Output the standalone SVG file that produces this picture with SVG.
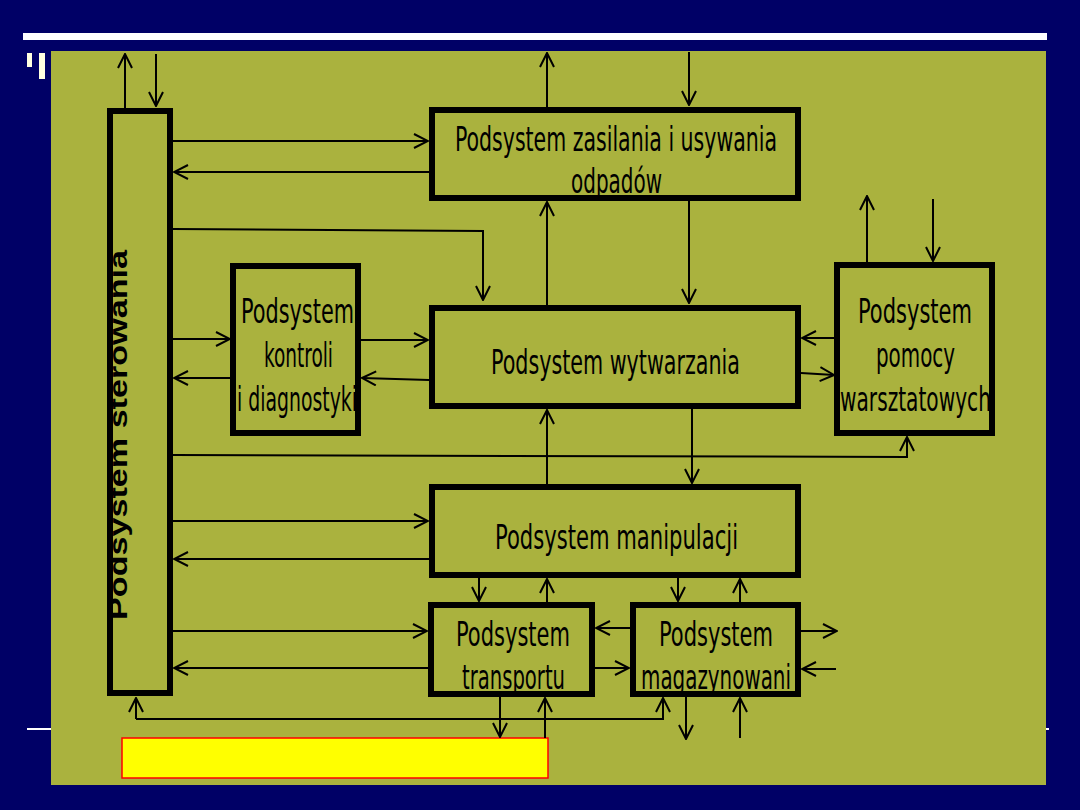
<svg xmlns="http://www.w3.org/2000/svg" width="1080" height="810" viewBox="0 0 1080 810">
<defs>
<marker id="ah" viewBox="0 0 16 16" refX="15" refY="8" markerWidth="16" markerHeight="16" markerUnits="userSpaceOnUse" orient="auto">
<path d="M1,1 L15,8 L1,15" fill="none" stroke="#000" stroke-width="2"/>
</marker>
<style>
.box{fill:none;stroke:#000;stroke-width:6}
.t{font-family:"DejaVu Sans Condensed","DejaVu Sans",sans-serif;font-size:33px;fill:#000}
.c path{fill:none;stroke:#000;stroke-width:2;marker-end:url(#ah)}
</style>
</defs>
<rect x="0" y="0" width="1080" height="810" fill="#000066"/>
<rect x="23" y="33" width="1024" height="7" fill="#ffffff"/>
<rect x="27" y="53" width="5" height="14" fill="#ffffe0"/>
<rect x="39" y="53" width="6" height="26" fill="#ffffe0"/>
<rect x="27" y="728" width="24" height="2" fill="#ffffff"/>
<rect x="1044" y="728" width="5" height="2" fill="#ffffff"/>
<rect x="51" y="51" width="995" height="734" fill="#aab23e"/>
<rect x="122" y="738" width="426" height="40" fill="#ffff00" stroke="#ff0000" stroke-width="1.5"/>

<g id="sterowania">
<rect class="box" x="110" y="111" width="60" height="582"/>
<text transform="translate(127,620) rotate(-90)" font-family="'Liberation Sans',Arial,sans-serif" font-weight="bold" font-size="26" textLength="370" lengthAdjust="spacingAndGlyphs">Podsystem sterowania</text>
</g>
<g id="zasilania">
<rect class="box" x="432" y="110" width="366" height="88"/>
<text class="t" x="455" y="151" textLength="322" lengthAdjust="spacingAndGlyphs">Podsystem zasilania  i usywania</text>
<text class="t" x="571" y="193" textLength="91" lengthAdjust="spacingAndGlyphs">odpadów</text>
</g>
<g id="kontroli">
<rect class="box" x="233" y="266" width="125" height="167"/>
<text class="t" x="241" y="323" textLength="113" lengthAdjust="spacingAndGlyphs">Podsystem</text>
<text class="t" x="264" y="367" textLength="69" lengthAdjust="spacingAndGlyphs">kontroli</text>
<text class="t" x="237" y="411" textLength="120" lengthAdjust="spacingAndGlyphs">i diagnostyki</text>
</g>
<g id="wytwarzania">
<rect class="box" x="432" y="308" width="366" height="98"/>
<text class="t" x="491" y="374" textLength="249" lengthAdjust="spacingAndGlyphs">Podsystem  wytwarzania</text>
</g>
<g id="pomocy">
<rect class="box" x="837" y="265" width="155" height="168"/>
<text class="t" x="858" y="323" textLength="114" lengthAdjust="spacingAndGlyphs">Podsystem</text>
<text class="t" x="876" y="367" textLength="79" lengthAdjust="spacingAndGlyphs">pomocy</text>
<text class="t" x="840" y="411" textLength="151" lengthAdjust="spacingAndGlyphs">warsztatowych</text>
</g>
<g id="manipulacji">
<rect class="box" x="432" y="487" width="366" height="88"/>
<text class="t" x="495" y="549" textLength="243" lengthAdjust="spacingAndGlyphs">Podsystem   manipulacji</text>
</g>
<g id="transportu">
<rect class="box" x="431" y="605" width="161" height="89"/>
<text class="t" x="456" y="646" textLength="114" lengthAdjust="spacingAndGlyphs">Podsystem</text>
<text class="t" x="462" y="689" textLength="103" lengthAdjust="spacingAndGlyphs">transportu</text>
</g>
<g id="magazynowania">
<rect class="box" x="633" y="605" width="165" height="89"/>
<text class="t" x="659" y="646" textLength="114" lengthAdjust="spacingAndGlyphs">Podsystem</text>
<text class="t" x="641" y="689" textLength="150" lengthAdjust="spacingAndGlyphs">magazynowani</text>
</g>

<g id="connectors" class="c">
<path d="M125,108 L125,54"/>
<path d="M156,54 L156,106"/>
<path d="M173,141 L428,141"/>
<path d="M429,172 L174,172"/>
<path d="M173,229 L483,231 L483,300"/>
<path d="M173,339 L230,339"/>
<path d="M230,378 L174,378"/>
<path d="M361,340 L428,340"/>
<path d="M429,380 L362,378"/>
<path d="M547,305 L547,202"/>
<path d="M689,201 L689,303"/>
<path d="M547,107 L547,53"/>
<path d="M689,52 L689,105"/>
<path d="M867,262 L867,196"/>
<path d="M933,199 L933,261"/>
<path d="M834,338 L802,338"/>
<path d="M801,373 L834,375"/>
<path d="M173,455 L907,457 L907,437"/>
<path d="M547,484 L547,410"/>
<path d="M692,409 L692,483"/>
<path d="M173,521 L428,521"/>
<path d="M429,559 L174,559"/>
<path d="M479,578 L479,601"/>
<path d="M547,602 L547,579"/>
<path d="M678,578 L678,601"/>
<path d="M740,602 L740,579"/>
<path d="M173,631 L427,631"/>
<path d="M428,668 L174,668"/>
<path d="M630,628 L596,628"/>
<path d="M595,668 L629,668"/>
<path d="M801,631 L837,631"/>
<path d="M836,669 L802,669"/>
<path d="M136,719 L136,698"/>
<path d="M136,719 L663,719 L663,698"/>
<path d="M500,697 L500,737"/>
<path d="M545,738 L545,698"/>
<path d="M686,697 L686,739"/>
<path d="M740,738 L740,698"/>
</g>
</svg>
